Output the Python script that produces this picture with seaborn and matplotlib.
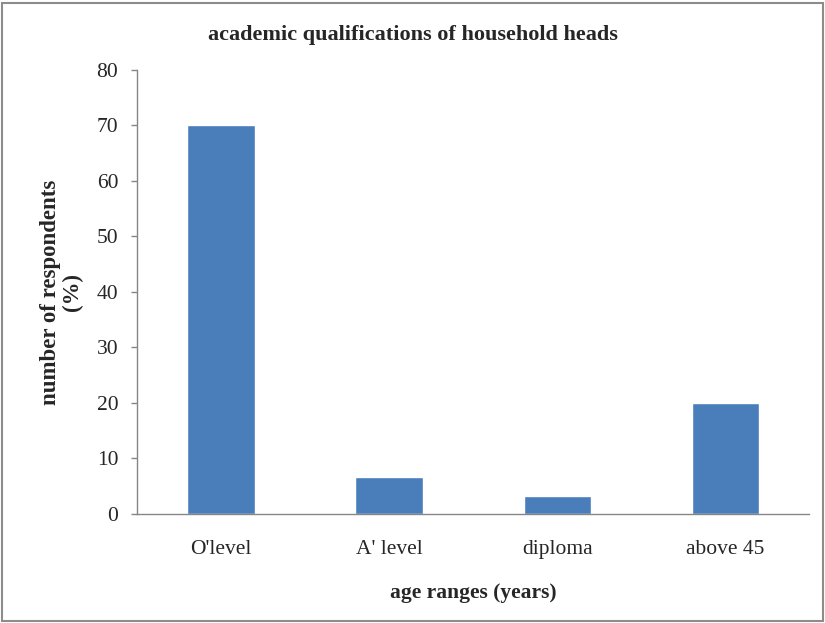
import matplotlib
matplotlib.use("Agg")
import matplotlib.pyplot as plt
import seaborn as sns
import pandas as pd
from matplotlib.patches import Rectangle

categories = ["O'level", "A' level", "diploma", "above 45"]
values = [70, 6.7, 3.3, 20]
y_ticks = [0, 10, 20, 30, 40, 50, 60, 70, 80]

sns.set_style("white")
plt.rcParams["font.family"] = ["Liberation Serif", "DejaVu Serif"]

df = pd.DataFrame({"qualification": categories, "percent": values})

fig = plt.figure(figsize=(8.25, 6.23), dpi=100)
ax = fig.add_axes([0.166, 0.175, 0.815, 0.713])

sns.barplot(data=df, x="qualification", y="percent", color="#4a7ebb",
            width=0.40, saturation=1, ax=ax)

ax.set_ylim(0, 80)
ax.set_xlim(-0.5, len(categories) - 0.5)
ax.set_yticks(y_ticks)
ax.set_yticklabels([str(t) for t in y_ticks], fontsize=15.5)
ax.set_xticks(range(len(categories)))
ax.set_xticklabels(categories, fontsize=15.5)
ax.set_xticks([i - 0.5 for i in range(len(categories) + 1)], minor=True)
ax.tick_params(axis="x", which="major", length=0, pad=19)
ax.tick_params(axis="x", which="minor", length=4.5, color="#868686", width=1)
ax.tick_params(axis="y", length=4.5, color="#868686", width=1, pad=9, left=True)

for side in ["top", "right"]:
    ax.spines[side].set_visible(False)
for side in ["left", "bottom"]:
    ax.spines[side].set_color("#868686")
    ax.spines[side].set_linewidth(1)

ax.set_xlabel("age ranges (years)", fontsize=15.5, fontweight="bold", labelpad=17)
ax.set_ylabel("number of respondents\n(%)", fontsize=16.5, fontweight="bold",
              labelpad=10, linespacing=1.05)
fig.text(0.5, 0.944, "academic qualifications of household heads",
         ha="center", va="center", fontsize=16, fontweight="bold")

fig.patches.append(Rectangle((0.003, 0.003), 0.994, 0.992, transform=fig.transFigure,
                             fill=False, edgecolor="#8c8c8c", linewidth=1.5))

fig.savefig("out.png", dpi=100)
